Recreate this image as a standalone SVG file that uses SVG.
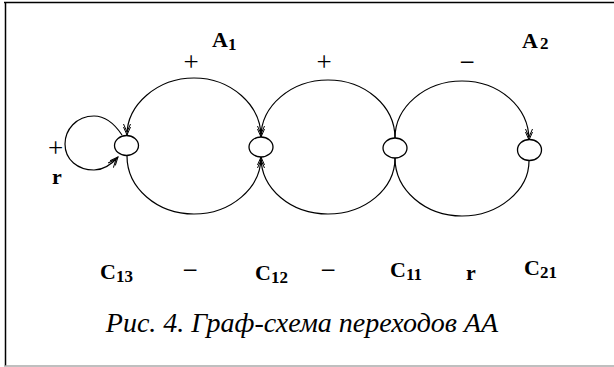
<svg xmlns="http://www.w3.org/2000/svg" width="614" height="367" viewBox="0 0 614 367">
<defs>
<style>
.edge{fill:none;stroke:#000;stroke-width:1.2}
.node{fill:#fff;stroke:#000;stroke-width:1.3}
.lbl{font-family:"Liberation Serif","Times New Roman",serif;font-weight:bold;font-size:22px;fill:#000}
.sub{font-size:17px}
.sign{font-family:"Liberation Serif","Times New Roman",serif;font-size:27px;fill:#000;text-anchor:middle}
.cap{font-family:"Liberation Serif","Times New Roman",serif;font-style:italic;font-size:28px;fill:#000;text-anchor:middle}
</style>
<marker id="arr" viewBox="-12 -6 14 12" refX="0" refY="0" markerWidth="14" markerHeight="12" orient="auto" markerUnits="userSpaceOnUse">
<path d="M-8,-3.5 L0,0 L-8,3.5 M-11,-3.5 L-3,0 L-11,3.5" fill="none" stroke="#000" stroke-width="1"/>
</marker>
</defs>
<rect x="0" y="0" width="614" height="367" fill="#fff"/>
<g id="frame">
<line x1="5.5" y1="2.5" x2="5.5" y2="366" stroke="#000" stroke-width="1.5"/>
<line x1="4" y1="2.5" x2="614" y2="2.5" stroke="#000" stroke-width="1.5"/>
<line x1="4" y1="366" x2="614" y2="366" stroke="#aaa" stroke-width="1.5"/>
</g>
<g id="connectors">
<path class="edge" d="M 122 135 C 112 120 102 116 94 116 C 76 116 65 130 65 144 C 65 160 78 170 94 170 C 104 170 111 165 118 157" marker-end="url(#arr)"/>
<path class="edge" d="M 261 137 C 261 105 231 78 194 78 C 157 78 127 105 127 135" marker-end="url(#arr)"/>
<path class="edge" d="M 127 156 C 127 188 157 214 194 214 C 231 214 261 188 261 157" marker-end="url(#arr)"/>
<path class="edge" d="M 395 138 C 395 106 365 80 328 80 C 291 80 261 106 261 137" marker-end="url(#arr)"/>
<path class="edge" d="M 261 157 C 261 189 291 214 328 214 C 365 214 395 189 395 158"/>
<path class="edge" d="M 395 138 C 395 107 425 81 462 81 C 499 81 529 107 529 140" marker-end="url(#arr)"/>
<path class="edge" d="M 395 158 C 395 190 425 216 462 216 C 499 216 529 190 529 161"/>
</g>
<g id="C13"><ellipse class="node" cx="126.5" cy="145.5" rx="12" ry="10"/></g>
<g id="C12"><ellipse class="node" cx="261" cy="147" rx="12" ry="10"/></g>
<g id="C11"><ellipse class="node" cx="395" cy="148" rx="12" ry="10"/></g>
<g id="C21"><ellipse class="node" cx="529.5" cy="150" rx="12" ry="10.5"/></g>
<g id="labels">
<text class="lbl" x="212" y="47">A<tspan class="sub" dy="3">1</tspan></text>
<text class="lbl" x="522" y="48">A<tspan class="sub" dx="2" dy="1">2</tspan></text>
<text class="sign" x="191" y="71">+</text>
<text class="sign" x="324" y="71">+</text>
<text class="sign" x="467" y="71">−</text>
<text class="sign" x="55.5" y="157">+</text>
<text class="lbl" x="52" y="184">r</text>
<text class="lbl" x="100" y="279">C<tspan class="sub" dy="3">13</tspan></text>
<text class="sign" x="190" y="279">−</text>
<text class="lbl" x="255" y="280">C<tspan class="sub" dy="3">12</tspan></text>
<text class="sign" x="328" y="279">−</text>
<text class="lbl" x="390" y="277">C<tspan class="sub" dy="3">11</tspan></text>
<text class="lbl" x="466" y="280">r</text>
<text class="lbl" x="524" y="275">C<tspan class="sub" dy="3">21</tspan></text>
<text class="cap" x="302" y="332">Рис. 4. Граф-схема переходов АА</text>
</g>
</svg>
